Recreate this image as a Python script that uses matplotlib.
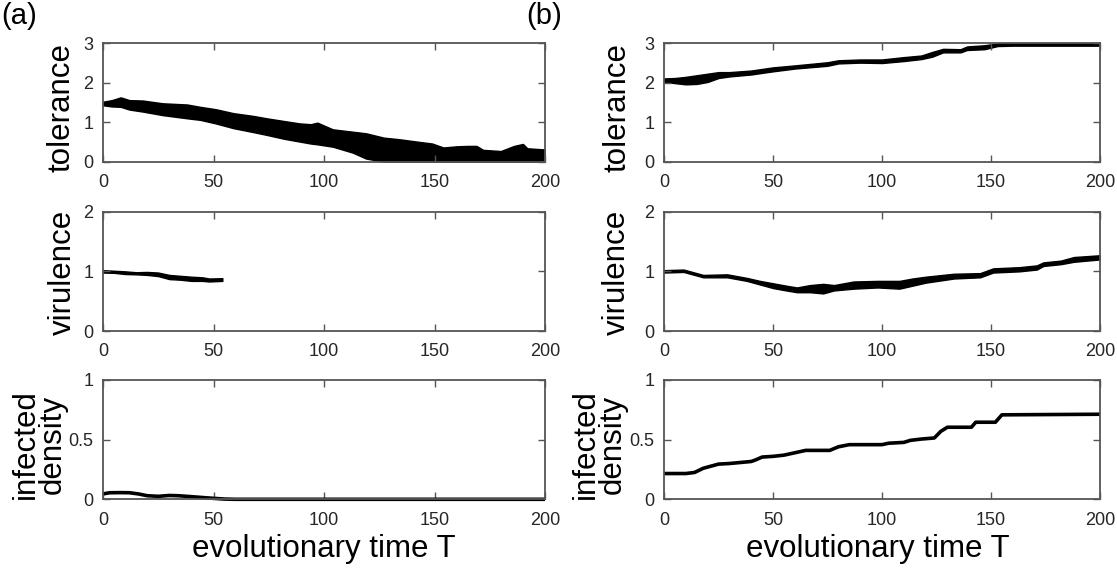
import matplotlib
matplotlib.use("Agg")
import matplotlib.pyplot as plt
from matplotlib import font_manager

# ---------------- data ----------------
# (a) tolerance band (scattered trait values): envelope
tol_a_T = [0, 4, 8, 12, 18, 27, 38, 44, 51, 59, 68, 74, 82, 89, 94, 97, 104, 113, 119,
           127, 134, 142, 149, 154, 160, 165, 169, 172, 180, 186, 190, 192, 200]
tol_a_hi = [1.52, 1.56, 1.63, 1.56, 1.55, 1.48, 1.45, 1.39, 1.33, 1.23, 1.16, 1.10, 1.03,
            0.97, 0.95, 0.99, 0.82, 0.76, 0.72, 0.61, 0.57, 0.51, 0.46, 0.36, 0.39, 0.40,
            0.40, 0.30, 0.27, 0.40, 0.45, 0.34, 0.31]
tol_a_lo = [1.43, 1.40, 1.39, 1.32, 1.27, 1.18, 1.10, 1.06, 0.97, 0.85, 0.75, 0.68, 0.58,
            0.51, 0.46, 0.44, 0.38, 0.23, 0.08, 0.0, 0.0, 0.0, 0.0, 0.0, 0.0, 0.0,
            0.0, 0.0, 0.0, 0.0, 0.0, 0.0, 0.0]

# (b) tolerance band
tol_b_T = [0, 5, 10, 15, 20, 25, 30, 40, 50, 60, 75, 80, 90, 100, 110, 118, 123, 128,
           136, 139, 147, 153, 160, 180, 200]
tol_b_hi = [2.11, 2.12, 2.15, 2.19, 2.23, 2.27, 2.27, 2.31, 2.39, 2.44, 2.52, 2.57, 2.59,
            2.59, 2.65, 2.69, 2.78, 2.86, 2.85, 2.92, 2.95, 3.00, 3.00, 3.00, 3.00]
tol_b_lo = [2.03, 1.99, 1.96, 1.97, 2.02, 2.12, 2.16, 2.21, 2.29, 2.36, 2.43, 2.49, 2.51,
            2.50, 2.55, 2.60, 2.66, 2.77, 2.77, 2.83, 2.85, 2.93, 2.94, 2.94, 2.94]

# (a) virulence band (pathogen goes extinct at T~54)
vir_a_T = [0, 5, 10, 15, 20, 25, 30, 35, 40, 45, 48, 54]
vir_a_hi = [1.02, 1.01, 1.00, 0.985, 0.99, 0.98, 0.94, 0.925, 0.91, 0.90, 0.88, 0.885]
vir_a_lo = [0.98, 0.975, 0.955, 0.95, 0.94, 0.92, 0.87, 0.86, 0.84, 0.84, 0.83, 0.84]

# (b) virulence band
vir_b_T = [0, 9, 15, 18, 29, 38, 44, 50, 56, 61, 67, 73, 78, 87, 98, 108, 114, 120, 133,
           145, 151, 163, 171, 174, 182, 188, 200]
vir_b_hi = [1.02, 1.03, 0.97, 0.94, 0.95, 0.89, 0.84, 0.80, 0.76, 0.73, 0.77, 0.79, 0.77,
            0.83, 0.84, 0.84, 0.88, 0.91, 0.96, 0.97, 1.05, 1.07, 1.10, 1.15, 1.18, 1.24, 1.27]
vir_b_lo = [0.98, 0.99, 0.93, 0.90, 0.90, 0.84, 0.78, 0.72, 0.68, 0.65, 0.65, 0.63, 0.68,
            0.71, 0.73, 0.71, 0.76, 0.81, 0.88, 0.90, 0.98, 1.00, 1.03, 1.09, 1.12, 1.16, 1.20]

# infected density
inf_a_T = [0, 3, 8, 12, 16, 20, 25, 30, 34, 40, 45, 50, 55, 60, 200]
inf_a_v = [0.045, 0.055, 0.056, 0.055, 0.045, 0.030, 0.025, 0.032, 0.030, 0.022, 0.015,
           0.008, 0.002, 0.0, 0.0]

inf_b_T = [0, 10, 14, 18, 25, 30, 40, 42, 45, 50, 55, 60, 65, 76, 80, 85, 100, 103, 110,
           113, 118, 124, 127, 130, 141, 143, 152, 155, 200]
inf_b_v = [0.216, 0.216, 0.225, 0.26, 0.295, 0.30, 0.317, 0.33, 0.354, 0.36, 0.37, 0.39,
           0.41, 0.41, 0.44, 0.458, 0.458, 0.47, 0.477, 0.494, 0.505, 0.514, 0.57, 0.604,
           0.604, 0.646, 0.646, 0.708, 0.713]

x_ticks = [0, 50, 100, 150, 200]
tol_ticks = [0, 1, 2, 3]
vir_ticks = [0, 1, 2]
inf_ticks = [0, 0.5, 1]
inf_ticklabels = ["0", "0.5", "1"]

# ---------------- style ----------------
names = {f.name for f in font_manager.fontManager.ttflist}
tick_font = "Liberation Sans Narrow" if "Liberation Sans Narrow" in names else "Liberation Sans"
tick_size = 15 if tick_font == "Liberation Sans Narrow" else 13
label_font = "Liberation Sans"
plt.rcParams["font.family"] = [label_font, "DejaVu Sans"]

W, H = 1117, 569
fig = plt.figure(figsize=(W / 100, H / 100), dpi=100)

col_x = [(103, 545), (664, 1100)]
row_y = [(43.3, 161.7), (211.7, 331), (380, 499.3)]
spine_col = "#555555"
tick_col = "#262626"


def make_ax(c, r):
    x0, x1 = col_x[c]
    y0, y1 = row_y[r]
    ax = fig.add_axes([x0 / W, 1 - y1 / H, (x1 - x0) / W, (y1 - y0) / H])
    for s in ax.spines.values():
        s.set_color(spine_col)
        s.set_linewidth(1.3)
    ax.tick_params(direction="in", length=5, width=1.0, color=spine_col,
                   top=True, right=True, labelcolor=tick_col, labelsize=tick_size)
    ax.tick_params(axis="x", pad=9)
    ax.tick_params(axis="y", pad=7)
    ax.set_xlim(0, 200)
    ax.set_xticks(x_ticks)
    ax.set_xticklabels([str(t) for t in x_ticks], fontfamily=tick_font)
    return ax


def set_y(ax, ticks, labels, lim):
    ax.set_ylim(*lim)
    ax.set_yticks(ticks)
    ax.set_yticklabels(labels, fontfamily=tick_font)


# column (a)
ax = make_ax(0, 0)
set_y(ax, tol_ticks, [str(t) for t in tol_ticks], (0, 3))
ax.fill_between(tol_a_T, tol_a_lo, tol_a_hi, color="k", lw=1.0)

ax = make_ax(0, 1)
set_y(ax, vir_ticks, [str(t) for t in vir_ticks], (0, 2))
ax.fill_between(vir_a_T, vir_a_lo, vir_a_hi, color="k", lw=1.0)

ax = make_ax(0, 2)
set_y(ax, inf_ticks, inf_ticklabels, (0, 1))
ax.plot(inf_a_T, inf_a_v, color="k", lw=2.6, solid_capstyle="butt", clip_on=False)

# column (b)
ax = make_ax(1, 0)
set_y(ax, tol_ticks, [str(t) for t in tol_ticks], (0, 3))
ax.fill_between(tol_b_T, tol_b_lo, tol_b_hi, color="k", lw=1.0)

ax = make_ax(1, 1)
set_y(ax, vir_ticks, [str(t) for t in vir_ticks], (0, 2))
ax.fill_between(vir_b_T, vir_b_lo, vir_b_hi, color="k", lw=1.0)

ax = make_ax(1, 2)
set_y(ax, inf_ticks, inf_ticklabels, (0, 1))
ax.plot(inf_b_T, inf_b_v, color="k", lw=2.6, solid_capstyle="butt")

# ---------------- labels ----------------
lab_size = 22.5
def ylab(px, py, s):
    fig.text(px / W, 1 - py / H, s, rotation=90, ha="center", va="center",
             fontsize=lab_size, linespacing=0.88)

ylab(62, 107, "tolerance")
ylab(63, 272, "virulence")
ylab(39, 444, "infected\ndensity")
ylab(618, 107, "tolerance")
ylab(617, 272, "virulence")
ylab(599, 444, "infected\ndensity")

for cx in (324, 878):
    fig.text(cx / W, 1 - 549 / H, "evolutionary time T", ha="center", va="center",
             fontsize=lab_size)

fig.text(1 / W, 1 - 16 / H, "(a)", ha="left", va="center", fontsize=21)
fig.text(526 / W, 1 - 16 / H, "(b)", ha="left", va="center", fontsize=21)

fig.savefig("out.png", dpi=100)
